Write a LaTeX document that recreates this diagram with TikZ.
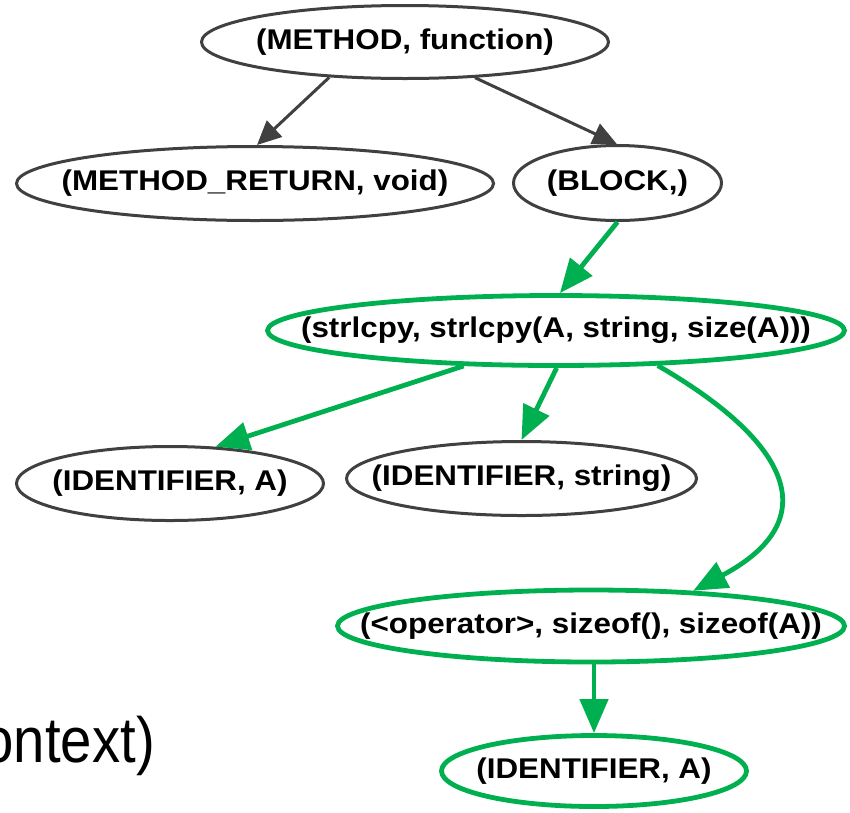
\documentclass[tikz,border=0pt]{standalone}
\usepackage{fontspec}
\usepackage{graphicx}
\setmainfont{Liberation Sans}
\usetikzlibrary{shapes.geometric,arrows.meta}
\definecolor{dgray}{RGB}{64,64,64}
\definecolor{ggreen}{RGB}{0,176,80}
\newcommand{\lbltext}[1]{\makebox[0pt]{\raisebox{-3pt}{\scalebox{1.1}[1]{\fontsize{28.5}{32}\selectfont\bfseries #1}}}}
\tikzset{
  gnode/.style={ellipse, draw=dgray, line width=3pt, inner sep=0pt, fill=white},
  grnode/.style={gnode, draw=ggreen, line width=4.8pt},
  garrow/.style={draw=dgray, line width=3pt, -{Triangle[length=24pt,width=22pt]}},
  grarrow/.style={draw=ggreen, line width=4.8pt, -{Triangle[length=34pt,width=28pt]}},
}
\begin{document}
\begin{tikzpicture}[x=1pt,y=-1pt]
\useasboundingbox (0,0) rectangle (850,812);
\clip (0,0) rectangle (850,812);
\node[gnode, minimum width=407pt, minimum height=73pt] (M) at (405,42) {\lbltext{(METHOD, function)}};
\node[gnode, minimum width=477pt, minimum height=74pt] (MR) at (255,183.5) {\lbltext{(METHOD\_RETURN, void)}};
\node[gnode, minimum width=208pt, minimum height=75pt] (B) at (617.5,183) {\lbltext{(BLOCK,)}};
\node[grnode, minimum width=577pt, minimum height=70pt] (S) at (556,330.5) {\lbltext{(strlcpy, strlcpy(A, string, size(A)))}};
\node[gnode, minimum width=307pt, minimum height=74pt] (IA) at (170,483.5) {\lbltext{(IDENTIFIER, A)}};
\node[gnode, minimum width=350pt, minimum height=74pt] (IS) at (521.5,478.5) {\lbltext{(IDENTIFIER, string)}};
\node[grnode, minimum width=507pt, minimum height=72pt] (O) at (591,626) {\lbltext{(<operator>, sizeof(), sizeof(A))}};
\node[grnode, minimum width=305pt, minimum height=71pt] (IAb) at (594,771) {\lbltext{(IDENTIFIER, A)}};
\node[anchor=base east, inner sep=0pt] (ctx) at (155,762) {\scalebox{0.88}[1]{\fontsize{64}{74}\selectfont ontext)}};
\draw[garrow] (M.205) -- (MR.87);
\draw[garrow] (M.-27) -- (B.91);
\draw[grarrow] (B.-90) -- (S.84);
\draw[grarrow] (S.201) -- (IA.39);
\draw[grarrow] (S.-89) -- (IS.90);
\draw[grarrow] (S.-19) to[out=-30,in=28,looseness=1.7] (O.19);
\draw[grarrow] (IAb.north |- O.south) -- (IAb.north);
\end{tikzpicture}
\end{document}
